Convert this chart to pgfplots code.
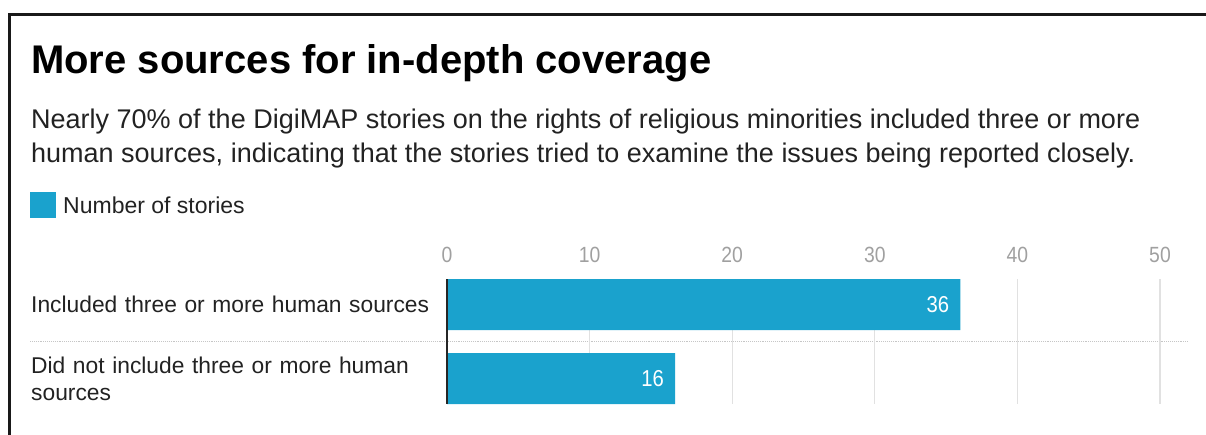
\documentclass[border=0pt]{standalone}
\usepackage{fontspec}
\setmainfont{Liberation Sans}
\newfontfamily\condensed[FakeStretch=0.88]{Liberation Sans}
\usepackage{pgfplots}
\pgfplotsset{compat=1.18}
\definecolor{barblue}{RGB}{26,162,205}
\definecolor{tickgray}{RGB}{160,160,160}
\definecolor{gridgray}{RGB}{225,225,225}
\definecolor{txt}{RGB}{34,34,34}
\begin{document}
\begin{tikzpicture}
\path[use as bounding box] (0pt,0pt) rectangle (1206pt,-434pt);
% frame
\draw[line width=3pt, black!90] (9.5pt,-440pt) -- (9.5pt,-14pt) -- (1210pt,-14pt);
% title and subtitle
\node[anchor=base west, inner sep=0pt, text=black] at (31pt,-73pt)
  {\fontsize{40}{48}\selectfont\bfseries More sources for in-depth coverage};
\node[anchor=base west, inner sep=0pt, text=txt] at (31pt,-128pt)
  {\fontsize{27}{34}\selectfont Nearly 70\% of the DigiMAP stories on the rights of religious minorities included three or more};
\node[anchor=base west, inner sep=0pt, text=txt] at (31pt,-162pt)
  {\fontsize{27}{34}\selectfont human sources, indicating that the stories tried to examine the issues being reported closely.};
% legend
\fill[barblue] (30pt,-192pt) rectangle (56pt,-218pt);
\node[anchor=base west, inner sep=0pt, text=txt] at (63pt,-213pt)
  {\fontsize{23}{27}\selectfont Number of stories};
% separator
\draw[densely dotted, gray!45, line width=0.9pt] (30pt,-341pt) -- (1188pt,-341pt);
\begin{axis}[
  at={(447pt,-279pt)}, anchor=north west,
  scale only axis, width=713pt, height=125pt,
  xbar, bar width=51pt,
  xmin=0, xmax=50, ymin=-0.3446, ymax=1.3446,
  y dir=reverse,
  axis x line*=top, axis y line*=left,
  x axis line style={draw=none},
  y axis line style={draw=none},
  xtick={0,10,20,30,40,50},
  ytick={0,1},
  yticklabels={Included three or more human sources, {Did not include three or more human\\sources}},
  yticklabel style={anchor=west, text width=430pt, align=left, inner sep=0pt, xshift=-416pt,
    font=\fontsize{22.8}{27}\selectfont, text=txt},
  xticklabel style={font=\condensed\fontsize{22}{24}\selectfont, text=tickgray, inner sep=0pt, yshift=16pt},
  /pgf/number format/assume math mode=true,
  major tick length=0pt,
  xmajorgrids, grid style={gridgray, line width=1.2pt},
  nodes near coords,
  nodes near coords style={anchor=east, inner sep=0pt, xshift=-11pt, text=white,
    font=\condensed\fontsize{23}{26}\selectfont},
  clip=false,
]
\addplot[fill=barblue, draw=none] coordinates {(36,0) (16,1)};
\draw[black!85, line width=2pt] (axis cs:0,-0.3446) -- (axis cs:0,1.3446);
\end{axis}
\end{tikzpicture}
\end{document}
